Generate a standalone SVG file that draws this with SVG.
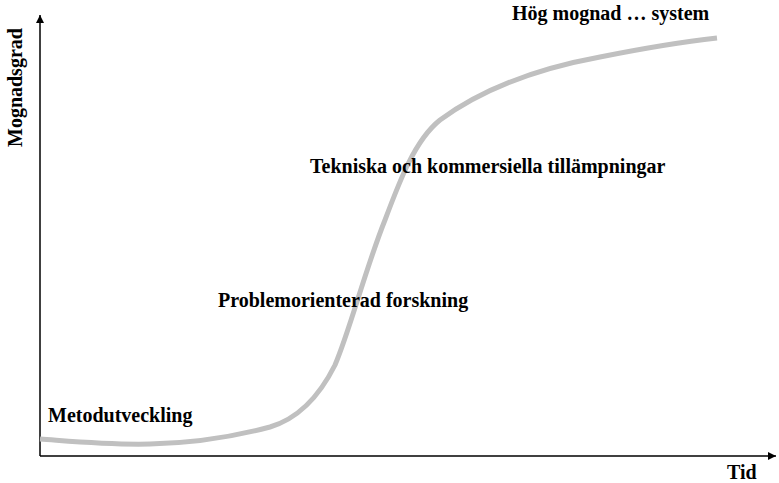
<svg xmlns="http://www.w3.org/2000/svg" width="779" height="483" viewBox="0 0 779 483">
<style>
.t{font-family:"Liberation Serif","Times New Roman",serif;font-weight:bold;font-size:20px;fill:#000}
.ax{stroke:#000;stroke-width:1.5;fill:none}
.curve{stroke:#c0c0c0;stroke-width:5;fill:none;stroke-linecap:butt}
</style>
<defs>
<marker id="ah" viewBox="0 0 10 10" refX="10" refY="5" markerWidth="8" markerHeight="8" markerUnits="userSpaceOnUse" orient="auto">
<path d="M0,0 L10,5 L0,10 z" fill="#000"/>
</marker>
</defs>
<g id="connectors">
<line class="ax" x1="40" y1="456" x2="40" y2="15" marker-end="url(#ah)"/>
<line class="ax" x1="40" y1="456" x2="776" y2="456" marker-end="url(#ah)"/>
<path class="curve" d="M40,439 C80,442 110,445 150,444 C200,443 240,435 270,427 C300,418 320,395 335,365 C350,330 365,270 385,220 C400,180 415,140 440,120 C485,87 540,68 600,57 C650,47 690,41 717,38"/>
</g>
<g id="label-y"><text class="t" transform="translate(22,147) rotate(-90)">Mognadsgrad</text></g>
<g id="label-x"><text class="t" x="727" y="479">Tid</text></g>
<g id="label-hog"><text class="t" x="512" y="20">Hög mognad … system</text></g>
<g id="label-tek"><text class="t" x="310" y="173">Tekniska och kommersiella tillämpningar</text></g>
<g id="label-prob"><text class="t" x="218" y="307">Problemorienterad forskning</text></g>
<g id="label-met"><text class="t" x="48" y="422">Metodutveckling</text></g>
</svg>
